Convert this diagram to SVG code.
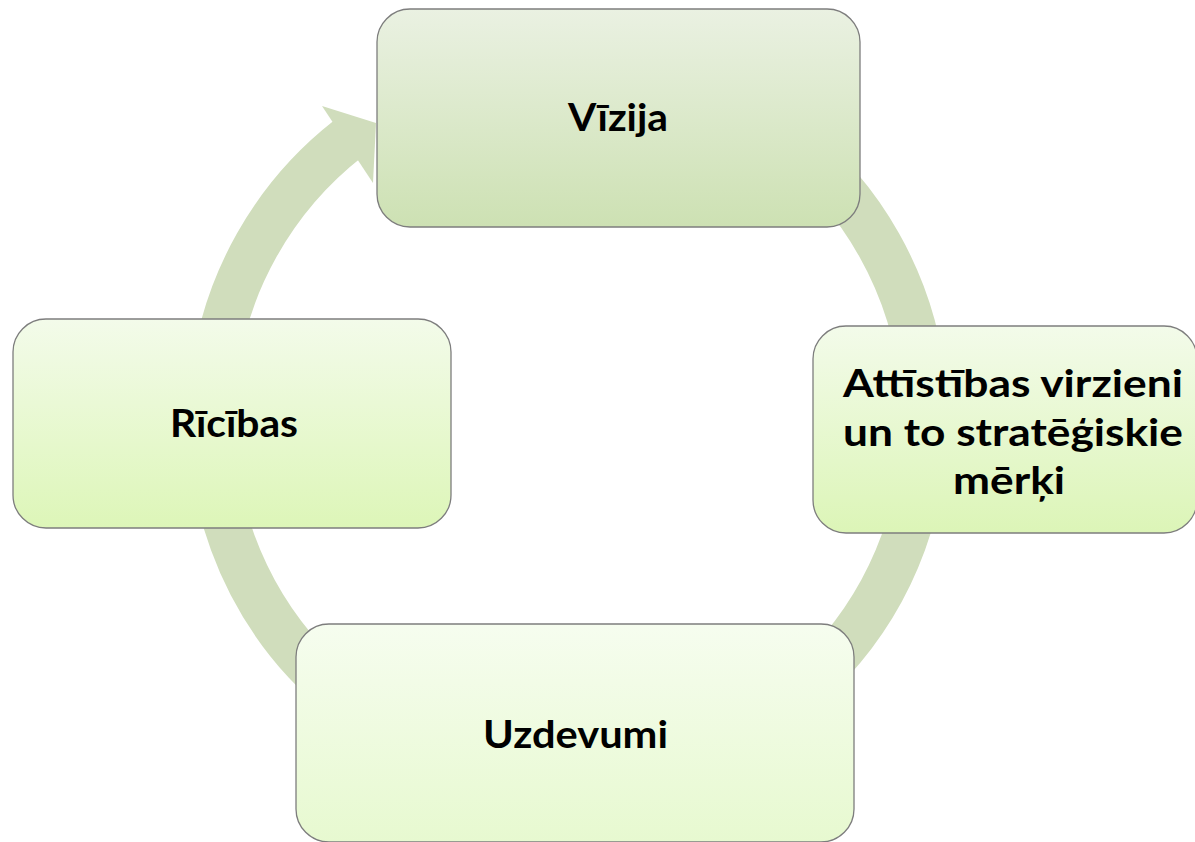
<svg xmlns="http://www.w3.org/2000/svg" width="1195" height="842" viewBox="0 0 1195 842">
  <defs>
    <linearGradient id="gVizija" x1="0" y1="0" x2="0" y2="1">
      <stop offset="0" stop-color="#eaf1e2"/>
      <stop offset="1" stop-color="#cde1b3"/>
    </linearGradient>
    <linearGradient id="gAttist" x1="0" y1="0" x2="0" y2="1">
      <stop offset="0" stop-color="#f3fbea"/>
      <stop offset="1" stop-color="#dcf5b7"/>
    </linearGradient>
    <linearGradient id="gRicibas" x1="0" y1="0" x2="0" y2="1">
      <stop offset="0" stop-color="#f3fbea"/>
      <stop offset="1" stop-color="#ddf6b8"/>
    </linearGradient>
    <linearGradient id="gUzdev" x1="0" y1="0" x2="0" y2="1">
      <stop offset="0" stop-color="#f6fdef"/>
      <stop offset="1" stop-color="#e7f9d0"/>
    </linearGradient>
  </defs>
  <style>
    .box { stroke: #7d7d7d; stroke-width: 1.3; }
    .lbl { font-family: Lato, "Liberation Sans", sans-serif; font-weight: bold; font-size: 38.5px; fill: #000000; text-anchor: middle; }
    .ring { fill: none; stroke: #d0ddbc; stroke-width: 46; stroke-linecap: butt; }
    .head { fill: #d0ddbc; }
  </style>
  <rect width="1195" height="842" fill="#ffffff"/>
  <g id="connectors">
    <path class="ring" d="M 787.8 138.7 A 357 357 0 1 1 348.2 138.7"/>
    <polygon class="head" points="322,106 376,123 373,183"/>
  </g>
  <g id="node-vizija">
    <rect class="box" x="377" y="9" width="483" height="218" rx="33" fill="url(#gVizija)"/>
    <text class="lbl" x="618" y="131" textLength="100" lengthAdjust="spacingAndGlyphs">Vīzija</text>
  </g>
  <g id="node-attistibas">
    <rect class="box" x="813" y="326" width="384" height="207" rx="33" fill="url(#gAttist)"/>
    <text class="lbl" x="1013" y="397" textLength="340" lengthAdjust="spacingAndGlyphs">Attīstības virzieni</text>
    <text class="lbl" x="1013" y="445.5" textLength="340" lengthAdjust="spacingAndGlyphs">un to stratēģiskie</text>
    <text class="lbl" x="1009" y="494" textLength="112" lengthAdjust="spacingAndGlyphs">mērķi</text>
  </g>
  <g id="node-uzdevumi">
    <rect class="box" x="296" y="624" width="558" height="218" rx="33" fill="url(#gUzdev)"/>
    <text class="lbl" x="575.5" y="748" textLength="185" lengthAdjust="spacingAndGlyphs">Uzdevumi</text>
  </g>
  <g id="node-ricibas">
    <rect class="box" x="13" y="319" width="438" height="209" rx="33" fill="url(#gRicibas)"/>
    <text class="lbl" x="234" y="437" textLength="128" lengthAdjust="spacingAndGlyphs">Rīcības</text>
  </g>
</svg>
